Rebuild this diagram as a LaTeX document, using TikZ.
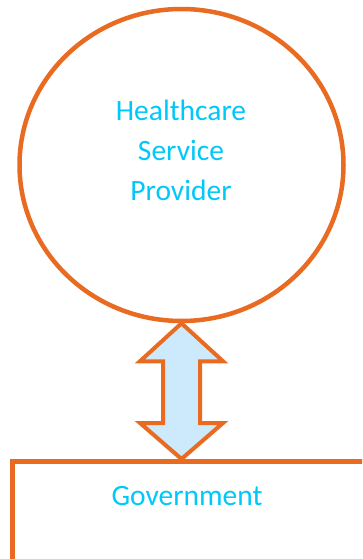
\documentclass[tikz,border=0pt]{standalone}
\usepackage{fontspec}
\setmainfont{Carlito}
\usetikzlibrary{shapes.geometric}
\definecolor{edgeorange}{HTML}{E96A21}
\definecolor{labelcyan}{HTML}{00C8FA}
\definecolor{arrowfill}{HTML}{CCEAFB}
\tikzset{
  outline/.style={draw=edgeorange, line width=4.5pt},
  labeltext/.style={text=labelcyan, font=\fontsize{29.5}{40}\selectfont, align=center, inner sep=0pt},
}
\begin{document}
\begin{tikzpicture}[x=1pt,y=-1pt]
\useasboundingbox (0,0) rectangle (362,559);
\clip (0,0) rectangle (362,559);
\fill[white] (0,0) rectangle (362,559);
% circle
\node[outline, ellipse, minimum width=324pt, minimum height=312pt, inner sep=0pt] (hsp) at (181.5,165) {};
\node[labeltext] (hsptext) at (181,150) {Healthcare\\Service\\Provider};
% rectangle
\node[outline, rectangle, anchor=north west, minimum width=354pt, minimum height=102pt, inner sep=0pt] (gov) at (10,459) {};
\node[labeltext] (govtext) at (187,496) {Government};
% double arrow between the two nodes
\coordinate (top) at (hsp.south);
\coordinate (bot) at (top |- gov.north);
\draw[outline, fill=arrowfill, line width=4pt, line join=miter]
  (top) -- ([xshift=41.5pt, yshift=-38pt]top) -- ([xshift=18.5pt, yshift=-38pt]top)
  -- ([xshift=18.5pt, yshift=36pt]bot) -- ([xshift=41.5pt, yshift=36pt]bot) -- (bot)
  -- ([xshift=-41.5pt, yshift=36pt]bot) -- ([xshift=-18.5pt, yshift=36pt]bot)
  -- ([xshift=-18.5pt, yshift=-38pt]top) -- ([xshift=-41.5pt, yshift=-38pt]top) -- cycle;
\end{tikzpicture}
\end{document}
